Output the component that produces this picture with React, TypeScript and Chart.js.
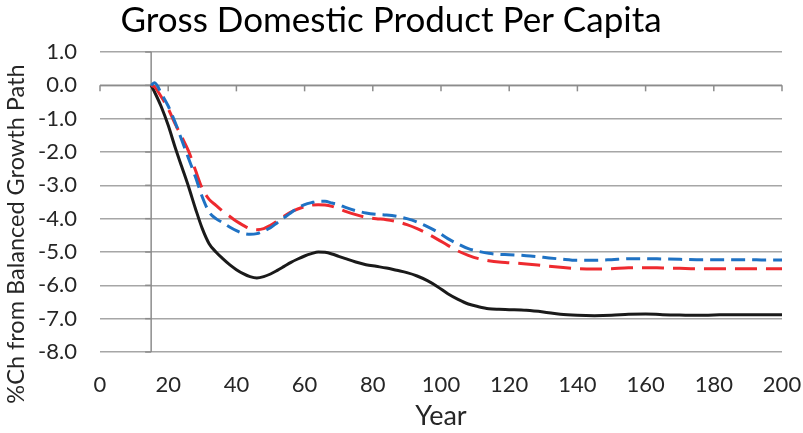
import React, { useEffect, useRef } from "react";
import { Chart, registerables } from "chart.js";

Chart.register(...registerables);

const years = [15, 16, 18, 20, 22, 24, 26, 28, 30, 32, 34, 36, 38, 40, 42, 44, 46, 48, 50, 52, 54, 56, 58, 60, 62, 64, 66, 68, 70, 72, 75, 78, 81, 84, 87, 90, 93, 96, 99, 102, 105, 108, 111, 114, 117, 120, 125, 130, 135, 140, 145, 150, 155, 160, 165, 170, 175, 180, 185, 190, 195, 200];

const blackSeries = [0, -0.2, -0.65, -1.2, -1.85, -2.45, -3.05, -3.7, -4.3, -4.75, -5.0, -5.2, -5.38, -5.53, -5.65, -5.74, -5.78, -5.74, -5.66, -5.55, -5.43, -5.31, -5.21, -5.12, -5.05, -5.0, -5.01, -5.06, -5.13, -5.2, -5.3, -5.38, -5.43, -5.48, -5.55, -5.62, -5.72, -5.86, -6.04, -6.25, -6.42, -6.56, -6.64, -6.7, -6.72, -6.73, -6.75, -6.8, -6.87, -6.9, -6.91, -6.9, -6.87, -6.86, -6.88, -6.89, -6.9, -6.89, -6.88, -6.88, -6.88, -6.88];

const blueSeries = [0, 0.08, -0.25, -0.62, -1.1, -1.65, -2.2, -2.75, -3.35, -3.8, -4.0, -4.12, -4.25, -4.36, -4.44, -4.47, -4.45, -4.37, -4.27, -4.12, -3.97, -3.82, -3.68, -3.58, -3.52, -3.48, -3.48, -3.53, -3.58, -3.66, -3.76, -3.83, -3.87, -3.89, -3.93, -4.0, -4.1, -4.24, -4.4, -4.6, -4.76, -4.9, -4.98, -5.04, -5.07, -5.08, -5.11, -5.16, -5.21, -5.25, -5.25, -5.23, -5.2, -5.2, -5.21, -5.22, -5.23, -5.23, -5.23, -5.23, -5.24, -5.24];

const redSeries = [0, -0.05, -0.35, -0.7, -1.15, -1.55, -1.98, -2.55, -3.1, -3.42, -3.6, -3.78, -3.93, -4.08, -4.2, -4.3, -4.33, -4.3, -4.2, -4.07, -3.93, -3.8, -3.71, -3.64, -3.59, -3.58, -3.59, -3.63, -3.7, -3.78, -3.88, -3.96, -4.0, -4.03, -4.09, -4.18, -4.3, -4.45, -4.62, -4.8, -4.97, -5.1, -5.2, -5.26, -5.3, -5.32, -5.36, -5.41, -5.46, -5.5, -5.51, -5.5, -5.47, -5.47, -5.48, -5.49, -5.5, -5.5, -5.5, -5.5, -5.5, -5.5];

const titleText = "Gross Domestic Product Per Capita";
const xTitle = "Year";
const yTitle = "%Ch from Balanced Growth Path";
const yAxisCrossAt = 15;
const xAxisCrossAt = 0;

const FONT = "Lato, 'Open Sans', sans-serif";
const TEXT = "#262626";
const GRID = "#a6a6a6";

const crossAxesPlugin = {
  id: "crossAxes",
  beforeDatasetsDraw(chart: any) {
    const { ctx, chartArea, scales } = chart;
    const xs = scales.x;
    const ys = scales.y;
    const xPix = xs.getPixelForValue(yAxisCrossAt);
    const yPix = ys.getPixelForValue(xAxisCrossAt);
    ctx.save();
    ctx.strokeStyle = "#8c8c8c";
    ctx.lineWidth = 1.5;
    ctx.beginPath();
    ctx.moveTo(xPix, chartArea.top);
    ctx.lineTo(xPix, chartArea.bottom);
    ctx.stroke();
    ys.ticks.forEach((t: any) => {
      const p = ys.getPixelForValue(t.value);
      ctx.beginPath();
      ctx.moveTo(xPix - 6, p);
      ctx.lineTo(xPix, p);
      ctx.stroke();
    });
    ctx.beginPath();
    ctx.moveTo(chartArea.left, yPix);
    ctx.lineTo(chartArea.right, yPix);
    ctx.stroke();
    xs.ticks.forEach((t: any) => {
      const p = xs.getPixelForValue(t.value);
      ctx.beginPath();
      ctx.moveTo(p, yPix);
      ctx.lineTo(p, yPix + 6);
      ctx.stroke();
    });
    ctx.restore();
  },
};

const yTitlePlugin = {
  id: "yTitle",
  afterDraw(chart: any) {
    const { ctx } = chart;
    ctx.save();
    ctx.translate(24, 234);
    ctx.rotate(-Math.PI / 2);
    ctx.font = `23.5px ${FONT}`;
    ctx.fillStyle = TEXT;
    ctx.textAlign = "center";
    ctx.textBaseline = "alphabetic";
    ctx.fillText(yTitle, 0, 0);
    ctx.restore();
  },
};

export default function App() {
  const ref = useRef<HTMLCanvasElement>(null);
  useEffect(() => {
    if (!ref.current) return;
    const mk = (arr: number[]) => years.map((x, i) => ({ x, y: arr[i] }));
    const chart = new Chart(ref.current, {
      type: "line",
      data: {
        datasets: [
          {
            label: "Blue",
            data: mk(blueSeries),
            borderColor: "#1f72c4",
            borderWidth: 3,
            borderDash: [14, 7],
            pointRadius: 0,
            cubicInterpolationMode: "monotone",
            fill: false,
          },
          {
            label: "Red",
            data: mk(redSeries),
            borderColor: "#ee2a2f",
            borderWidth: 3,
            borderDash: [22, 9],
            pointRadius: 0,
            cubicInterpolationMode: "monotone",
            fill: false,
          },
          {
            label: "Black",
            data: mk(blackSeries),
            borderColor: "#1a1a1a",
            borderWidth: 3,
            pointRadius: 0,
            cubicInterpolationMode: "monotone",
            fill: false,
          },
        ],
      },
      options: {
        animation: false,
        responsive: false,
        maintainAspectRatio: false,
        layout: { padding: { right: 21, left: 0, top: 0, bottom: 0 } },
        plugins: {
          legend: { display: false },
          tooltip: { enabled: false },
          title: {
            display: true,
            text: titleText,
            color: "#000",
            font: { family: FONT, size: 35, weight: "normal", lineHeight: 1.2 },
            padding: { top: 0, bottom: 10 },
          },
        },
        scales: {
          x: {
            type: "linear",
            min: 0,
            max: 200,
            grid: { display: false },
            border: { display: false },
            ticks: {
              stepSize: 20,
              color: TEXT,
              font: { family: FONT, size: 22 },
              padding: 12,
              maxRotation: 0,
            },
            title: {
              display: true,
              text: xTitle,
              color: TEXT,
              font: { family: FONT, size: 27 },
              padding: { top: 0, bottom: 1 },
            },
            afterFit: (s: any) => {
              s.height = 81;
              s.paddingLeft = 0;
              s.paddingRight = 0;
            },
          },
          y: {
            min: -8,
            max: 1,
            grid: {
              color: GRID,
              lineWidth: 1.5,
              drawTicks: false,
            },
            border: { display: false },
            ticks: {
              stepSize: 1,
              color: TEXT,
              font: { family: FONT, size: 22 },
              padding: 23,
              callback: (v: any) => Number(v).toFixed(1),
            },
            afterFit: (s: any) => {
              s.width = 100;
              s.paddingTop = 0;
              s.paddingBottom = 0;
            },
          },
        },
      },
      plugins: [crossAxesPlugin, yTitlePlugin],
    });
    return () => chart.destroy();
  }, []);
  return (
    <div style={{ position: "absolute", left: 0, top: 0, width: 803, height: 433, background: "#fff" }}>
      <canvas ref={ref} width={803} height={433} style={{ width: 803, height: 433, display: "block" }} />
    </div>
  );
}
